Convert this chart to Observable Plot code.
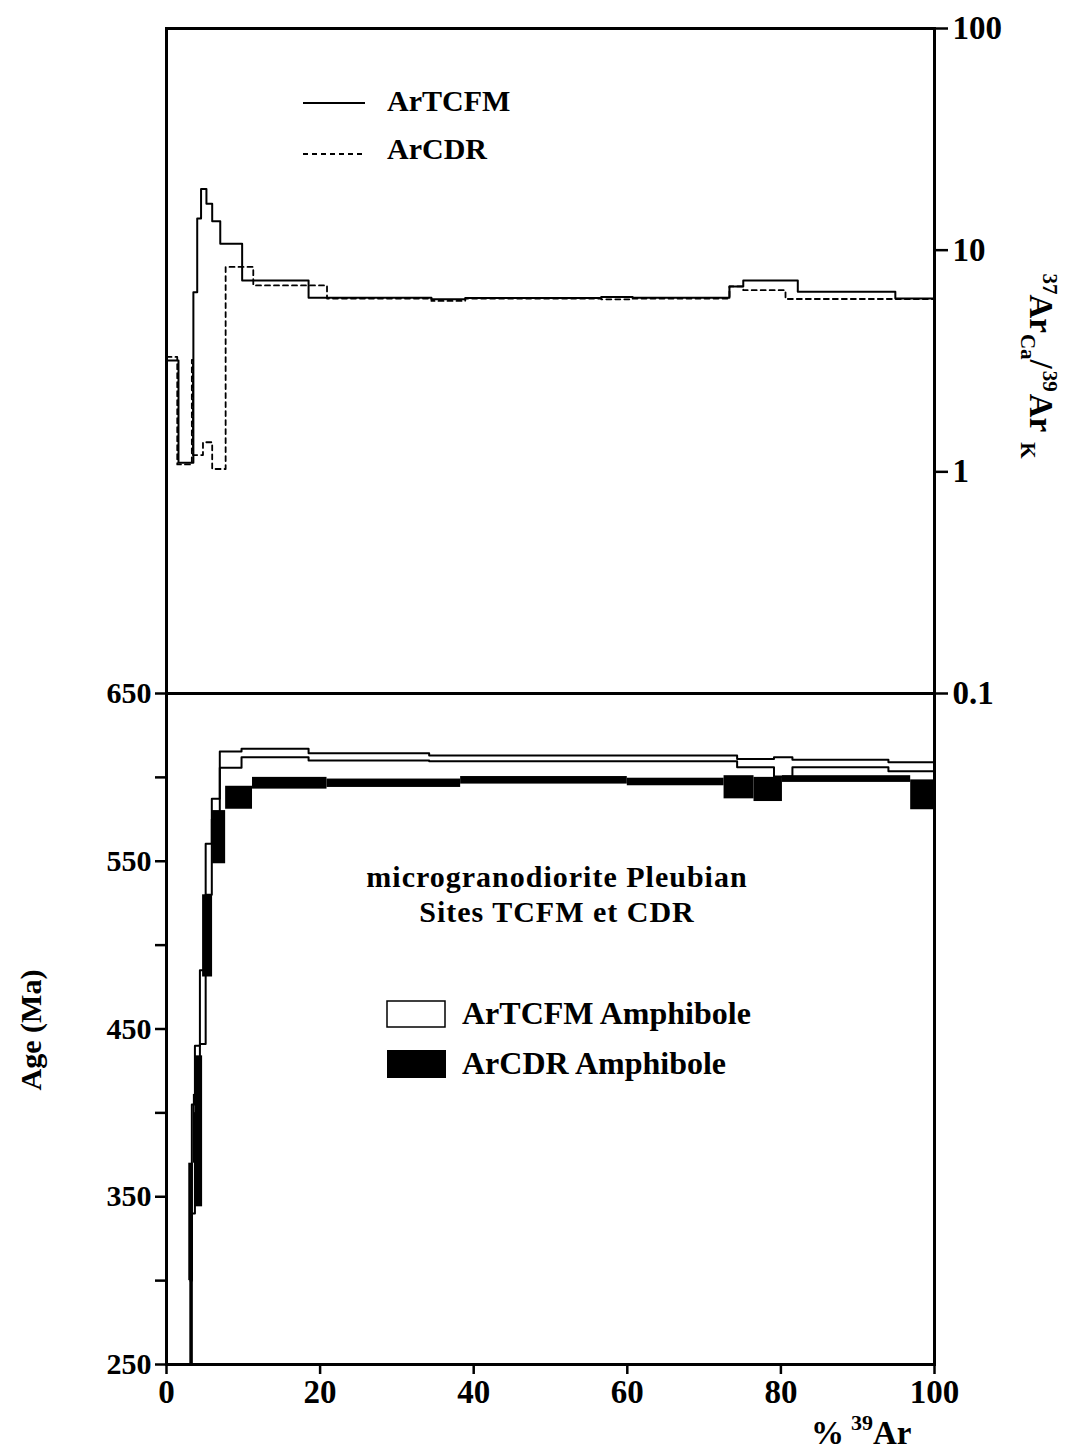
<!DOCTYPE html>
<html><head><meta charset="utf-8">
<script src="https://cdn.jsdelivr.net/npm/d3@7"></script>
<script src="https://cdn.jsdelivr.net/npm/@observablehq/plot@0.6"></script>
<style>
body{margin:0;background:#fff;}
#wrap{position:relative;width:1065px;height:1454px;background:#fff;overflow:hidden;font-family:"Liberation Serif","Times New Roman",serif;}
#wrap > svg{position:absolute;left:0;}
</style></head><body><div id="wrap"></div>
<script>
// ---------- DATA ----------
// Top panel: 37ArCa/39ArK ratio spectra (step edges in cumulative % 39Ar, one value per step)
const tcfmRatioEdges = [0, 1.56, 3.5, 4.0, 4.5, 5.2, 5.95, 7.0, 9.85, 18.5, 34.5, 38.9, 56.6, 60.7, 73.3, 75.1, 82.2, 94.9, 100];
const tcfmRatio      = [3.18, 1.10, 6.46, 13.9, 18.9, 16.2, 13.5, 10.7, 7.3, 6.1, 6.0, 6.08, 6.15, 6.1, 6.86, 7.3, 6.5, 6.05];
const cdrRatioEdges  = [0, 1.4, 3.3, 3.45, 4.75, 5.95, 7.7, 11.3, 20.9, 34.5, 38.9, 56.6, 60.7, 73.3, 75.1, 80.6, 100];
const cdrRatio       = [3.3, 1.08, 3.2, 1.19, 1.36, 1.03, 8.4, 6.93, 6.05, 5.9, 6.05, 6.0, 6.05, 6.86, 6.6, 6.02];

// Bottom panel: age spectra (Ma), lower / upper bound of each step
const tcfmAgeEdges = [3.1, 3.3, 3.7, 4.35, 5.1, 5.9, 6.94, 9.77, 18.5, 34.2, 74.3, 79.1, 81.5, 94, 100];
const tcfmAgeLow   = [230, 340, 400, 441, 530, 575, 605.7, 612, 610, 609.6, 606, 600.5, 606, 603.7];
const tcfmAgeHigh  = [300, 405, 440, 485, 560.4, 587.2, 615.4, 617, 614.4, 613, 611, 612, 610.5, 609];
const cdrAgeEdges  = [2.9, 3.5, 3.7, 4.7, 6.0, 7.7, 11.2, 20.9, 38.3, 60, 72.6, 76.5, 80.2, 96.9, 100];
const cdrAgeLow    = [300, 370, 344, 481, 548.5, 581, 593, 594, 596, 595, 587.2, 585.6, 597, 580.7];
const cdrAgeHigh   = [370, 411, 434, 530, 580.2, 594.7, 600, 599, 600.5, 599.5, 601, 600, 601, 598.5];

// Axes
const ratioTicks = [0.1, 1, 10, 100];
const ratioTickLabels = ["0.1", "1", "10", "100"];
const ageTicks = [250, 300, 350, 400, 450, 500, 550, 600, 650];
const ageTickLabels = [250, 350, 450, 550, 650];
const xTicks = [0, 20, 40, 60, 80, 100];

const legendTop = ["ArTCFM", "ArCDR"];
const legendBottom = ["ArTCFM Amphibole", "ArCDR Amphibole"];
const titleLines = ["microgranodiorite Pleubian", "Sites TCFM et CDR"];

// ---------- BUILD ----------
const FONT = '"Liberation Serif","Times New Roman",serif';
const stepPts = (edges, vals) => edges.map((e, i) => ({x: e, y: vals[Math.min(i, vals.length - 1)]}));
const bandPts = (edges, lo, hi) => edges.map((e, i) => ({x: e, lo: lo[Math.min(i, lo.length - 1)], hi: hi[Math.min(i, hi.length - 1)]}));
const rects = (edges, lo, hi) => lo.map((l, i) => ({x1: edges[i], x2: edges[i + 1], lo: l, hi: hi[i]}));

const wrap = document.getElementById("wrap");
const baseStyle = {background: "transparent", fontFamily: FONT, fontSize: "30px", fontWeight: "bold", color: "black", overflow: "visible"};

const topPlot = Plot.plot({
  width: 1065, height: 700,
  marginTop: 28, marginBottom: 7, marginLeft: 166, marginRight: 131,
  style: baseStyle,
  x: {domain: [0, 100], axis: null},
  y: {type: "log", domain: [0.1, 100], axis: null},
  marks: [
    Plot.line(stepPts(tcfmRatioEdges, tcfmRatio), {x: "x", y: "y", curve: "step-after", stroke: "black", strokeWidth: 2}),
    Plot.line(stepPts(cdrRatioEdges, cdrRatio), {x: "x", y: "y", curve: "step-after", stroke: "black", strokeWidth: 1.8, strokeDasharray: "5,4"}),
    Plot.frame({stroke: "black", strokeWidth: 3}),
    Plot.axisY({anchor: "right", ticks: ratioTicks, tickFormat: (d) => ratioTickLabels[ratioTicks.indexOf(d)], tickSize: 13, tickPadding: 5, strokeWidth: 2.5, fontSize: 33, fontWeight: "bold", label: null})
  ]
});
topPlot.style.top = "0px";
wrap.appendChild(topPlot);

const tcfmBand = bandPts(tcfmAgeEdges, tcfmAgeLow, tcfmAgeHigh);
const tcfmEnds = [tcfmBand[0], tcfmBand[tcfmBand.length - 1]];
const botPlot = Plot.plot({
  width: 1065, height: 774,
  marginTop: 13, marginBottom: 90, marginLeft: 166, marginRight: 131,
  style: baseStyle,
  x: {domain: [0, 100], axis: null},
  y: {domain: [250, 650], axis: null},
  marks: [
    Plot.areaY(tcfmBand, {x: "x", y1: "lo", y2: "hi", curve: "step-after", fill: "white", clip: true}),
    Plot.line(tcfmBand, {x: "x", y: "lo", curve: "step-after", stroke: "black", strokeWidth: 2, clip: true}),
    Plot.line(tcfmBand, {x: "x", y: "hi", curve: "step-after", stroke: "black", strokeWidth: 2, clip: true}),
    Plot.ruleX(tcfmEnds, {x: "x", y1: "lo", y2: "hi", stroke: "black", strokeWidth: 2, clip: true}),
    Plot.rect(rects(cdrAgeEdges, cdrAgeLow, cdrAgeHigh), {x1: "x1", x2: "x2", y1: "lo", y2: "hi", fill: "black", clip: true}),
    Plot.frame({stroke: "black", strokeWidth: 3}),
    Plot.axisY({anchor: "left", ticks: ageTicks, tickFormat: (d) => ageTickLabels.includes(d) ? String(d) : "", tickSize: 11, tickPadding: 4, strokeWidth: 2.5, fontSize: 30, fontWeight: "bold", label: null}),
    Plot.axisX({anchor: "bottom", ticks: xTicks, tickFormat: (d) => String(d), tickSize: 10, tickPadding: 5, strokeWidth: 2.5, fontSize: 33, fontWeight: "bold", label: null})
  ]
});
botPlot.style.top = "680px";
wrap.appendChild(botPlot);

// ---------- ANNOTATIONS (legends, titles, axis labels) ----------
const ov = d3.select(wrap).append("svg")
  .attr("width", 1065).attr("height", 1454)
  .style("top", "0px").style("pointer-events", "none")
  .style("font-family", FONT).style("font-weight", "bold").attr("fill", "black");

// top legend
ov.append("line").attr("x1", 303).attr("x2", 365).attr("y1", 103).attr("y2", 103).attr("stroke", "black").attr("stroke-width", 2);
ov.append("line").attr("x1", 303).attr("x2", 365).attr("y1", 154).attr("y2", 154).attr("stroke", "black").attr("stroke-width", 1.8).attr("stroke-dasharray", "5,4");
ov.append("text").attr("x", 387).attr("y", 111).style("font-size", "30px").text(legendTop[0]);
ov.append("text").attr("x", 387).attr("y", 159).style("font-size", "30px").text(legendTop[1]);

// title
ov.append("text").attr("x", 557).attr("y", 887).attr("text-anchor", "middle").style("font-size", "30px").style("letter-spacing", "1px").text(titleLines[0]);
ov.append("text").attr("x", 557).attr("y", 922).attr("text-anchor", "middle").style("font-size", "30px").style("letter-spacing", "1px").text(titleLines[1]);

// bottom legend
ov.append("rect").attr("x", 387).attr("y", 1001).attr("width", 58).attr("height", 26).attr("fill", "white").attr("stroke", "black").attr("stroke-width", 1.5);
ov.append("rect").attr("x", 387).attr("y", 1050).attr("width", 59).attr("height", 28).attr("fill", "black");
ov.append("text").attr("x", 462).attr("y", 1024).style("font-size", "32px").text(legendBottom[0]);
ov.append("text").attr("x", 462).attr("y", 1074).style("font-size", "32px").text(legendBottom[1]);

// left axis label
ov.append("text").attr("transform", "translate(41,1030) rotate(-90)").attr("text-anchor", "middle").style("font-size", "30px").text("Age (Ma)");

// right axis label
const rl = ov.append("text").attr("transform", "translate(1030,366) rotate(90)").attr("text-anchor", "middle").style("font-size", "33px");
rl.append("tspan").style("font-size", "21px").attr("dy", -13).text("37");
rl.append("tspan").attr("dy", 13).text("Ar");
rl.append("tspan").style("font-size", "21px").attr("dy", 9).attr("dx", 1).text("Ca");
rl.append("tspan").attr("dy", -9).text("/");
rl.append("tspan").style("font-size", "21px").attr("dy", -13).attr("dx", 2).text("39");
rl.append("tspan").attr("dy", 13).attr("dx", 2).text("Ar");
rl.append("tspan").style("font-size", "21px").attr("dy", 9).attr("dx", 10).text("K");

// x axis label
const xl = ov.append("text").attr("x", 811).attr("y", 1444).style("font-size", "33px");
xl.append("tspan").text("%");
xl.append("tspan").style("font-size", "22px").attr("dx", 7).attr("dy", -14).text("39");
xl.append("tspan").attr("dy", 14).text("Ar");
</script>
</body></html>
